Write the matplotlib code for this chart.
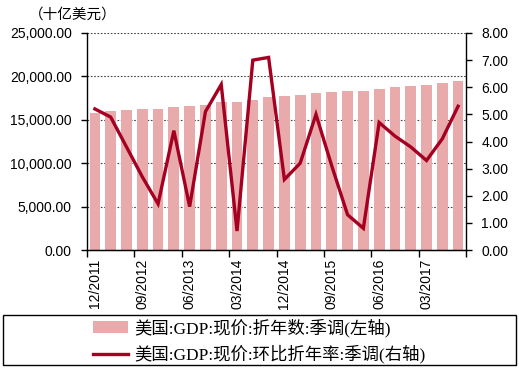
import matplotlib
matplotlib.use("Agg")
import matplotlib.pyplot as plt
from matplotlib.patches import Rectangle
from matplotlib.lines import Line2D
from matplotlib.patches import Patch

quarters = ["12/2011", "03/2012", "06/2012", "09/2012", "12/2012", "03/2013",
            "06/2013", "09/2013", "12/2013", "03/2014", "06/2014", "09/2014",
            "12/2014", "03/2015", "06/2015", "09/2015", "12/2015", "03/2016",
            "06/2016", "09/2016", "12/2016", "03/2017", "06/2017", "09/2017"]
gdp_level = [15785, 15973, 16121, 16228, 16297, 16475, 16541, 16749, 16999, 17031,
             17320, 17622, 17735, 17874, 18093, 18227, 18287, 18325, 18538, 18729,
             18905, 19057, 19250, 19500]
gdp_growth = [5.2, 4.9, 3.8, 2.7, 1.7, 4.4, 1.6, 5.1, 6.1, 0.7, 7.0, 7.1,
              2.6, 3.2, 5.0, 3.1, 1.3, 0.8, 4.7, 4.2, 3.8, 3.3, 4.1, 5.3]
tick_labels = ["12/2011", "09/2012", "06/2013", "03/2014", "12/2014",
               "09/2015", "06/2016", "03/2017"]
left_ticks = [0, 5000, 10000, 15000, 20000, 25000]
right_ticks = [0, 1, 2, 3, 4, 5, 6, 7, 8]
legend_labels = ["美国:GDP:现价:折年数:季调(左轴)", "美国:GDP:现价:环比折年率:季调(右轴)"]
unit_label = "（十亿美元）"

BAR_C = "#E8AAAA"
LINE_C = "#A50021"
NUM_FONT = ["Liberation Sans", "DejaVu Sans"]
CJK_FONT = ["Noto Sans CJK SC", "DejaVu Sans"]
LEG_FONT = ["Liberation Serif", "Noto Sans CJK SC", "DejaVu Sans"]

plt.rcParams["font.family"] = CJK_FONT

fig = plt.figure(figsize=(5.19, 3.68), dpi=100)
ax = fig.add_axes([87 / 519, 1 - 250 / 368, (466 - 87) / 519, (250 - 33) / 368])
x = list(range(len(quarters)))
ax.bar(x, gdp_level, width=0.68, color=BAR_C, zorder=2)
ax.set_xlim(-0.5, len(quarters) - 0.5)
ax.set_ylim(0, 25000)
ax.set_yticks(left_ticks)
ax.set_yticklabels([f"{v:,.2f}" for v in left_ticks], family=NUM_FONT, fontsize=10)
for v in left_ticks[1:]:
    ax.axhline(v, color="#444444", lw=0.8, ls=(0, (1.5, 1.5)), zorder=1)
ax.set_axisbelow(True)
ax.spines["top"].set_visible(False)
ax.spines["right"].set_visible(False)
ax.tick_params(axis="y", direction="out", length=4, width=1, pad=7)

# x ticks: marks at boundaries every 3 quarters, labels at bar centres
ax.set_xticks([-0.5 + 3 * k for k in range(9)])
ax.set_xticklabels([])
ax.tick_params(axis="x", which="major", direction="out", length=5, width=1)
ax.set_xticks([quarters.index(t) for t in tick_labels], minor=True)
ax.set_xticklabels(tick_labels, minor=True, rotation=90, family=NUM_FONT, fontsize=10)
ax.tick_params(axis="x", which="minor", length=0, pad=6)

ax2 = ax.twinx()
ax2.plot(x, gdp_growth, color=LINE_C, lw=2.4, zorder=3, solid_joinstyle="miter")
ax2.set_ylim(0, 8)
ax2.set_yticks(right_ticks)
ax2.set_yticklabels([f"{v:.2f}" for v in right_ticks], family=NUM_FONT, fontsize=10)
ax2.tick_params(axis="y", direction="out", length=4, width=1, pad=7)
ax2.spines["top"].set_visible(False)
ax2.spines["left"].set_visible(False)
for s in ["left", "bottom"]:
    ax.spines[s].set_linewidth(1)
ax2.spines["right"].set_linewidth(1)

fig.text(73 / 519, 1 - 15 / 368, unit_label, ha="center", va="center", fontsize=10.5)

# legend box
fig.patches.append(Rectangle((3 / 519, 1 - 365 / 368), 513 / 519, 50 / 368,
                             transform=fig.transFigure, fill=False, edgecolor="black", lw=1))
handles = [Patch(facecolor=BAR_C, edgecolor="none"),
           Line2D([0], [0], color=LINE_C, lw=2.4)]
fig.legend(handles, legend_labels, loc="center", bbox_to_anchor=(0.5, 1 - 341 / 368),
           frameon=False, prop={"family": LEG_FONT, "size": 12.5},
           handlelength=2.0, handleheight=0.7,
           labelspacing=0.45, handletextpad=0.35, borderpad=0)

fig.savefig("out.png", dpi=100)
